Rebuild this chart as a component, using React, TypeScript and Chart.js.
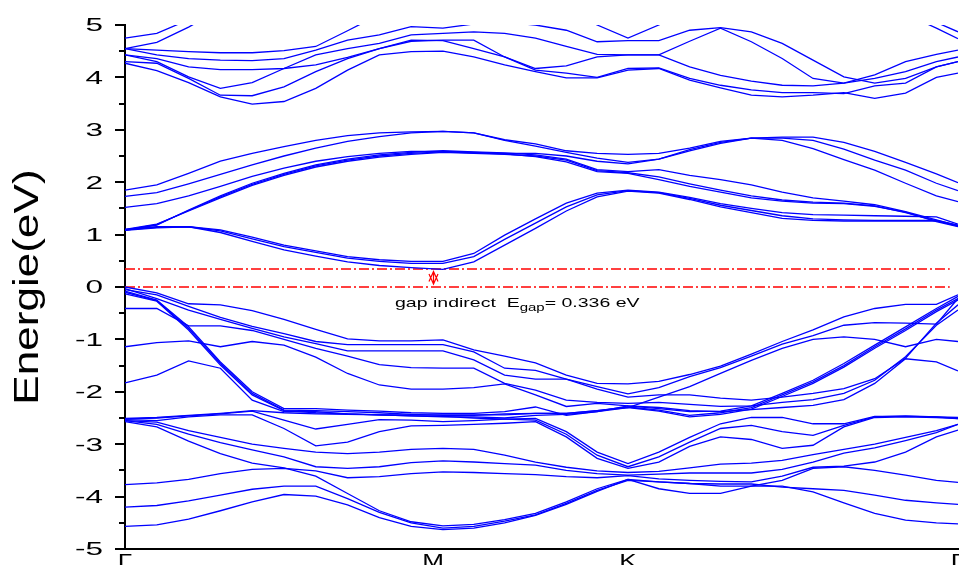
import React, { useEffect, useRef } from "react";
import { Chart, registerables } from "chart.js";

Chart.register(...registerables);

// k-path positions (distance along Γ–M–K–Γ)
const kx = [0, 1, 2, 3, 4, 5, 6, 7, 8, 9, 10, 10.97, 11.94, 12.91, 13.88, 14.85, 15.82, 16.79, 17.76, 18.73, 19.7, 20.67, 21.64, 22.61, 23.58, 24.55, 25.52, 26.2];
const symLabels = ["Γ", "M", "K", "Γ"];
const symPos = [0, 9.69, 15.82, 26.2];
const yMajorTicks = [5, 4, 3, 2, 1, 0, -1, -2, -3, -4, -5];
const yMinorTicks = [4.5, 3.5, 2.5, 1.5, 0.5, -0.5, -1.5, -2.5, -3.5, -4.5];
const fermiLevel = 0;
const cbmLevel = 0.336;
const gapArrowK = 9.69;
const gapLineEnd = 25.94;

// valence bands (eV)
const vA = [0, -0.11, -0.32, -0.34, -0.45, -0.62, -0.81, -0.99, -1.03, -1.03, -1.01, -1.2, -1.32, -1.45, -1.68, -1.84, -1.85, -1.8, -1.67, -1.51, -1.28, -1.04, -0.82, -0.57, -0.41, -0.33, -0.33, -0.15];
const vB = [-0.05, -0.15, -0.37, -0.58, -0.75, -0.89, -1.04, -1.1, -1.1, -1.1, -1.1, -1.24, -1.55, -1.59, -1.76, -1.9, -2.04, -1.92, -1.71, -1.54, -1.32, -1.09, -0.93, -0.73, -0.68, -0.69, -0.71, -0.22];
const vC = [-0.03, -0.22, -0.44, -0.62, -0.79, -0.95, -1.08, -1.22, -1.22, -1.22, -1.22, -1.39, -1.68, -1.76, -1.76, -1.95, -2.1, -2.06, -2.06, -2.12, -2.16, -2.1, -2.03, -1.94, -1.75, -1.36, -0.69, -0.34];
const vD = [-0.41, -0.41, -0.74, -0.74, -0.83, -1.0, -1.17, -1.32, -1.48, -1.54, -1.55, -1.55, -1.84, -1.97, -2.16, -2.2, -2.22, -2.2, -2.24, -2.28, -2.27, -2.2, -2.15, -2.03, -1.78, -1.33, -0.73, -0.44];
const vE = [-1.14, -1.06, -1.03, -1.14, -1.04, -1.11, -1.34, -1.65, -1.87, -1.95, -1.95, -1.92, -1.85, -2.06, -2.28, -2.22, -2.27, -2.3, -2.36, -2.38, -2.34, -2.3, -2.26, -2.15, -1.84, -1.37, -1.43, -1.6];
const vF = [-1.83, -1.68, -1.41, -1.55, -2.16, -2.38, -2.38, -2.42, -2.44, -2.44, -2.44, -2.44, -2.44, -2.41, -2.41, -2.36, -2.3, -2.1, -1.9, -1.65, -1.4, -1.17, -1.0, -0.95, -1.0, -1.14, -1.0, -1.04];
const s1 = [-0.08, -0.25, -0.76, -1.43, -2.0, -2.32, -2.32, -2.35, -2.37, -2.4, -2.41, -2.41, -2.38, -2.29, -2.45, -2.38, -2.27, -2.32, -2.38, -2.37, -2.27, -2.03, -1.78, -1.46, -1.11, -0.76, -0.41, -0.18];
const s2 = [-0.1, -0.26, -0.79, -1.46, -2.03, -2.35, -2.36, -2.38, -2.4, -2.43, -2.45, -2.45, -2.42, -2.41, -2.41, -2.36, -2.29, -2.35, -2.45, -2.4, -2.3, -2.06, -1.81, -1.5, -1.14, -0.8, -0.44, -0.22];
const s3 = [-0.13, -0.27, -0.82, -1.49, -2.06, -2.36, -2.4, -2.42, -2.44, -2.46, -2.48, -2.48, -2.5, -2.45, -2.43, -2.38, -2.3, -2.37, -2.48, -2.43, -2.33, -2.09, -1.84, -1.53, -1.17, -0.83, -0.47, -0.25];
const g1 = [-2.51, -2.49, -2.45, -2.41, -2.36, -2.4, -2.42, -2.43, -2.44, -2.46, -2.47, -2.5, -2.52, -2.54, -2.81, -3.21, -3.43, -3.24, -2.96, -2.7, -2.64, -2.76, -2.83, -2.64, -2.48, -2.46, -2.48, -2.51];
const g2 = [-2.52, -2.5, -2.46, -2.42, -2.37, -2.54, -2.71, -2.62, -2.53, -2.54, -2.57, -2.55, -2.52, -2.51, -2.76, -3.15, -3.37, -3.15, -2.87, -2.61, -2.49, -2.49, -2.61, -2.61, -2.47, -2.47, -2.48, -2.49];
const g3 = [-2.53, -2.55, -2.48, -2.44, -2.44, -2.7, -3.03, -2.96, -2.76, -2.65, -2.64, -2.62, -2.6, -2.57, -2.86, -3.27, -3.46, -3.34, -3.04, -2.86, -2.91, -3.08, -3.02, -2.67, -2.49, -2.48, -2.49, -2.51];
const l1 = [-2.55, -2.58, -2.74, -2.87, -3.0, -3.08, -3.15, -3.18, -3.15, -3.1, -3.08, -3.1, -3.21, -3.34, -3.44, -3.51, -3.54, -3.52, -3.45, -3.38, -3.36, -3.31, -3.2, -3.1, -3.0, -2.87, -2.74, -2.62];
const l2 = [-2.55, -2.62, -2.81, -2.97, -3.11, -3.24, -3.43, -3.46, -3.43, -3.35, -3.32, -3.34, -3.37, -3.4, -3.5, -3.56, -3.59, -3.57, -3.55, -3.55, -3.55, -3.48, -3.34, -3.17, -3.07, -2.93, -2.78, -2.62];
const l3 = [-3.77, -3.74, -3.67, -3.56, -3.48, -3.46, -3.51, -3.64, -3.62, -3.56, -3.53, -3.54, -3.56, -3.58, -3.62, -3.64, -3.6, -3.66, -3.69, -3.71, -3.72, -3.61, -3.44, -3.42, -3.34, -3.15, -2.86, -2.73];
const l4 = [-2.57, -2.67, -2.94, -3.18, -3.36, -3.45, -3.61, -3.94, -4.27, -4.48, -4.56, -4.53, -4.44, -4.32, -4.1, -3.85, -3.67, -3.85, -3.94, -3.94, -3.8, -3.69, -3.46, -3.43, -3.5, -3.59, -3.69, -3.73];
const l5 = [-4.2, -4.17, -4.08, -3.97, -3.86, -3.8, -3.8, -4.04, -4.3, -4.5, -4.6, -4.57, -4.47, -4.35, -4.13, -3.88, -3.69, -3.72, -3.75, -3.76, -3.76, -3.82, -3.85, -3.88, -3.97, -4.07, -4.12, -4.15];
const l6 = [-4.57, -4.54, -4.43, -4.27, -4.1, -3.96, -3.99, -4.16, -4.4, -4.57, -4.63, -4.6, -4.5, -4.36, -4.15, -3.9, -3.67, -3.72, -3.75, -3.8, -3.8, -3.8, -3.91, -4.12, -4.32, -4.45, -4.5, -4.52];

// conduction bands (eV)
const c1a = [1.08, 1.13, 1.15, 1.09, 0.95, 0.8, 0.69, 0.58, 0.52, 0.49, 0.49, 0.64, 0.99, 1.3, 1.6, 1.79, 1.85, 1.81, 1.71, 1.59, 1.5, 1.42, 1.38, 1.37, 1.36, 1.35, 1.34, 1.2];
const c1b = [1.09, 1.14, 1.15, 1.07, 0.92, 0.77, 0.66, 0.55, 0.49, 0.45, 0.45, 0.58, 0.91, 1.22, 1.53, 1.76, 1.84, 1.8, 1.69, 1.56, 1.46, 1.36, 1.3, 1.28, 1.27, 1.27, 1.27, 1.18];
const c1c = [1.1, 1.15, 1.15, 1.04, 0.87, 0.71, 0.59, 0.48, 0.41, 0.37, 0.336, 0.48, 0.8, 1.12, 1.45, 1.72, 1.83, 1.79, 1.67, 1.53, 1.42, 1.31, 1.27, 1.26, 1.26, 1.26, 1.26, 1.17];
const c2a = [1.85, 1.95, 2.17, 2.4, 2.55, 2.68, 2.8, 2.89, 2.94, 2.96, 2.97, 2.94, 2.81, 2.73, 2.6, 2.55, 2.53, 2.55, 2.65, 2.78, 2.84, 2.86, 2.86, 2.76, 2.59, 2.38, 2.16, 1.99];
const c2b = [1.73, 1.8, 1.97, 2.15, 2.33, 2.5, 2.65, 2.78, 2.87, 2.94, 2.97, 2.94, 2.8, 2.69, 2.57, 2.46, 2.38, 2.44, 2.62, 2.76, 2.84, 2.84, 2.8, 2.63, 2.42, 2.23, 1.98, 1.84];
const c2c = [1.52, 1.59, 1.74, 1.92, 2.11, 2.27, 2.4, 2.49, 2.55, 2.59, 2.59, 2.57, 2.55, 2.55, 2.5, 2.4, 2.35, 2.44, 2.6, 2.74, 2.84, 2.8, 2.64, 2.43, 2.23, 1.98, 1.74, 1.63];
const c2d = [1.08, 1.18, 1.47, 1.74, 1.98, 2.17, 2.33, 2.44, 2.52, 2.57, 2.6, 2.58, 2.56, 2.52, 2.44, 2.24, 2.2, 2.24, 2.13, 2.05, 1.95, 1.81, 1.7, 1.64, 1.57, 1.44, 1.28, 1.17];
const c2e = [1.09, 1.19, 1.46, 1.72, 1.96, 2.15, 2.31, 2.42, 2.5, 2.55, 2.58, 2.56, 2.54, 2.49, 2.39, 2.2, 2.17, 2.05, 1.92, 1.81, 1.7, 1.64, 1.6, 1.59, 1.54, 1.43, 1.25, 1.15];
const c2f = [1.1, 1.2, 1.45, 1.7, 1.94, 2.13, 2.29, 2.4, 2.48, 2.53, 2.57, 2.55, 2.53, 2.5, 2.42, 2.22, 2.18, 2.1, 1.97, 1.85, 1.74, 1.66, 1.62, 1.6, 1.55, 1.42, 1.26, 1.16];

// upper conduction bands (eV); null = outside the plotted window
const u1 = [4.75, 4.84, 5.1, 5.4, null, null, null, null, null, null, null, null, null, null, null, null, null, null, null, null, null, null, null, null, null, 5.21, 4.94, 4.74];
const u2 = [4.55, 4.67, 4.96, 5.3, null, null, null, null, null, null, null, null, null, null, null, null, null, null, null, null, null, null, null, null, null, 5.35, 5.05, 4.87];
const u3 = [4.55, 4.52, 4.49, 4.47, 4.47, 4.51, 4.59, 4.89, 5.2, null, null, null, null, null, null, null, null, null, null, null, null, null, null, null, null, null, null, null];
const u4 = [4.55, 4.43, 4.36, 4.33, 4.32, 4.36, 4.52, 4.71, 4.81, 4.97, 4.94, 5.02, 5.05, 5.0, 4.9, 4.68, 4.7, 4.7, 4.9, 4.95, 4.87, 4.65, 4.33, 4.01, 3.89, 3.98, 4.2, 4.3];
const u5 = [4.43, 4.36, 4.2, 4.15, 4.15, 4.17, 4.24, 4.38, 4.55, 4.69, 4.71, 4.71, 4.39, 4.14, 4.08, 4.0, 4.17, 4.18, 3.98, 3.85, 3.76, 3.71, 3.71, 3.69, 3.84, 3.89, 4.2, 4.3];
const u6 = [4.43, 4.3, 4.01, 3.79, 3.9, 4.17, 4.43, 4.55, 4.65, 4.81, 4.84, 4.87, 4.84, 4.75, 4.59, 4.44, 4.43, 4.43, 4.69, 4.94, 4.68, 4.36, 3.98, 3.89, 4.05, 4.3, 4.44, 4.52];
const u7 = [4.3, 4.27, 3.98, 3.66, 3.65, 3.82, 4.11, 4.36, 4.55, 4.71, 4.7, 4.55, 4.39, 4.17, 4.22, 4.39, 4.43, 4.43, 4.2, 4.04, 3.93, 3.85, 3.84, 3.89, 3.98, 4.11, 4.3, 4.39];
const u8 = [4.27, 4.13, 3.9, 3.63, 3.49, 3.54, 3.79, 4.14, 4.43, 4.49, 4.5, 4.39, 4.24, 4.11, 3.99, 3.99, 4.14, 4.17, 3.95, 3.8, 3.66, 3.63, 3.66, 3.71, 3.6, 3.7, 4.0, 4.08];
const uV = [null, null, null, null, null, null, null, null, null, null, null, null, null, null, 5.3, 5.0, 4.75, 5.0, 5.3, null, null, null, null, null, null, null, null, null];

const bands = [vA, vB, vC, vD, vE, vF, s1, s2, s3, g1, g2, g3, l1, l2, l3, l4, l5, l6,
  c1a, c1b, c1c, c2a, c2b, c2c, c2d, c2e, c2f, u1, u2, u3, u4, u5, u6, u7, u8, uV];

const FONT = "'Liberation Sans', Arial, sans-serif";

function drawStretched(ctx: CanvasRenderingContext2D, text: string, x: number, y: number, sx: number, align: "left" | "right" | "center") {
  const w = ctx.measureText(text).width * sx;
  let x0 = x;
  if (align === "right") x0 = x - w;
  if (align === "center") x0 = x - w / 2;
  ctx.save();
  ctx.translate(x0, y);
  ctx.scale(sx, 1);
  ctx.textAlign = "left";
  ctx.fillText(text, 0, 0);
  ctx.restore();
  return w;
}

const decorPlugin = {
  id: "decor",
  beforeDatasetsDraw(chart: any) {
    const { ctx, scales } = chart;
    const xs = scales.x;
    const ys = scales.y;
    ctx.save();
    ctx.strokeStyle = "#ff0000";
    ctx.lineWidth = 1.6;
    ctx.setLineDash([10, 3, 2, 3]);
    [fermiLevel, cbmLevel].forEach((e) => {
      const p = Math.round(ys.getPixelForValue(e));
      ctx.beginPath();
      ctx.moveTo(xs.getPixelForValue(0), p);
      ctx.lineTo(xs.getPixelForValue(gapLineEnd), p);
      ctx.stroke();
    });
    ctx.restore();
  },
  afterDraw(chart: any) {
    const { ctx, chartArea, scales } = chart;
    const xs = scales.x;
    const ys = scales.y;
    ctx.save();
    // tick marks
    ctx.strokeStyle = "#000";
    ctx.lineWidth = 2;
    ctx.beginPath();
    yMajorTicks.forEach((v) => {
      const p = Math.round(ys.getPixelForValue(v));
      ctx.moveTo(chartArea.left - 10, p);
      ctx.lineTo(chartArea.left, p);
    });
    yMinorTicks.forEach((v) => {
      const p = Math.round(ys.getPixelForValue(v));
      ctx.moveTo(chartArea.left - 6, p);
      ctx.lineTo(chartArea.left, p);
    });
    ctx.stroke();

    // tick labels
    ctx.fillStyle = "#000";
    ctx.font = `18px ${FONT}`;
    ctx.textBaseline = "alphabetic";
    yMajorTicks.forEach((v) => {
      const p = ys.getPixelForValue(v);
      drawStretched(ctx, String(v), 103, p + 6.4, 1.75, "right");
    });

    // k-point labels
    ctx.font = `18px ${FONT}`;
    symLabels.forEach((t, i) => {
      const p = xs.getPixelForValue(symPos[i]);
      drawStretched(ctx, t, p, 567, 1.45, "center");
    });

    // axis title
    ctx.save();
    ctx.font = `35px ${FONT}`;
    ctx.translate(38, (chartArea.top + chartArea.bottom) / 2);
    ctx.rotate(-Math.PI / 2);
    const tw = ctx.measureText("Energie(eV)").width;
    ctx.scale(1.26, 1);
    ctx.fillText("Energie(eV)", -tw / 2, 0);
    ctx.restore();

    // gap arrow (double-headed)
    const ax = Math.round(xs.getPixelForValue(gapArrowK)) + 0.5;
    const y0 = ys.getPixelForValue(fermiLevel) - 3;
    const y1 = ys.getPixelForValue(cbmLevel) + 2;
    ctx.strokeStyle = "#ff0000";
    ctx.lineWidth = 1.2;
    ctx.beginPath();
    ctx.moveTo(ax, y0);
    ctx.lineTo(ax, y1);
    ctx.moveTo(ax - 4.5, y1 + 10);
    ctx.lineTo(ax, y1);
    ctx.lineTo(ax + 4.5, y1 + 10);
    ctx.moveTo(ax - 4.5, y0 - 10);
    ctx.lineTo(ax, y0);
    ctx.lineTo(ax + 4.5, y0 - 10);
    ctx.stroke();

    // gap annotation
    ctx.fillStyle = "#000";
    let tx = 395;
    const by = 306.5;
    ctx.font = `13px ${FONT}`;
    tx += drawStretched(ctx, "gap indirect  E", tx, by, 1.5, "left");
    ctx.font = `10px ${FONT}`;
    tx += drawStretched(ctx, "gap", tx, by + 4, 1.5, "left");
    ctx.font = `13px ${FONT}`;
    drawStretched(ctx, "= 0.336 eV", tx, by, 1.5, "left");
    ctx.restore();
  },
};

export default function App() {
  const ref = useRef<HTMLCanvasElement | null>(null);
  useEffect(() => {
    if (!ref.current) return;
    const bandSets = bands.map((b) => ({
      data: kx.map((x, i) => ({ x, y: b[i] })),
      borderColor: "#0000ff",
      borderWidth: 1.3,
      pointRadius: 0,
      tension: 0,
      spanGaps: false,
      fill: false,
    }));
    const chart = new Chart(ref.current, {
      type: "line",
      data: { datasets: bandSets as any },
      options: {
        animation: false,
        responsive: false,
        events: [],
        layout: { padding: { left: 0, right: 1, top: 25, bottom: 0 } },
        plugins: { legend: { display: false }, tooltip: { enabled: false } },
        scales: {
          x: {
            type: "linear",
            min: 0,
            max: 26.2,
            grid: { display: false },
            ticks: { display: false },
            border: { display: true, color: "#000", width: 2 },
            afterFit: (s: any) => { s.height = 16; },
          },
          y: {
            type: "linear",
            min: -5,
            max: 5,
            grid: { display: false },
            ticks: { display: false },
            border: { display: true, color: "#000", width: 2 },
            afterFit: (s: any) => { s.width = 125; },
          },
        },
      },
      plugins: [decorPlugin],
    });
    return () => chart.destroy();
  }, []);
  return (
    <div style={{ position: "fixed", left: 0, top: 0, width: 959, height: 565, background: "#fff" }}>
      <canvas ref={ref} width={959} height={565} style={{ width: 959, height: 565, display: "block" }} />
    </div>
  );
}
